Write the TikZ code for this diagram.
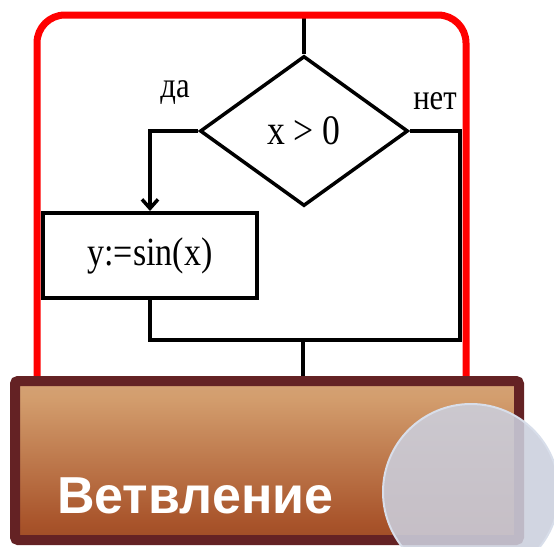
\documentclass[tikz,border=0pt]{standalone}
\usepackage{fontspec}
\setmainfont{Liberation Serif}
\newfontfamily\flowfont[FakeStretch=0.85]{Liberation Serif}
\newfontfamily\bannerfont{Liberation Sans}
\usepackage{xcolor}
\usepackage{tikz}
\usetikzlibrary{shapes,arrows.meta,positioning,calc}

\definecolor{framered}{HTML}{FF0000}
\definecolor{bannerline}{HTML}{642224}
\definecolor{bannertop}{HTML}{D8AF95}
\definecolor{bannermid}{HTML}{D39E6E}
\definecolor{bannerlow}{HTML}{A8532A}
\definecolor{bannerbot}{HTML}{6E3318}
\definecolor{glassfill}{HTML}{CBCFDD}
\definecolor{glassline}{HTML}{D8DEEA}
\pgfdeclareverticalshading{bannershade}{100bp}{color(0bp)=(bannerbot); color(30bp)=(bannerlow); color(70bp)=(bannermid); color(100bp)=(bannertop)}

\begin{document}
\begin{tikzpicture}[
    x=1pt, y=-1pt,
    flow/.style={draw=black, line width=3.5pt},
    cond/.style={diamond, draw=black, line width=3.5pt, aspect=1.39, inner sep=0pt, minimum width=208pt, minimum height=150pt, font=\flowfont\fontsize{42}{42}\selectfont},
    act/.style={rectangle, draw=black, line width=4pt, inner sep=0pt, minimum width=214pt, minimum height=85pt, font=\flowfont\fontsize{40}{40}\selectfont},
    lbl/.style={inner sep=0pt, font=\flowfont\fontsize{36}{36}\selectfont},
    arrow/.style={flow, -{Straight Barb[length=9pt, width=16pt]}}
]
    \useasboundingbox (0,0) rectangle (554,546);

    % flowchart
    \node [cond] (dec) at (304,131) {x > 0};
    \node [act] (act) at (150,255.5) {y:=sin(x)};
    \node [lbl] (yes) at (175,93) {да};
    \node [lbl] (no) at (435,101) {нет};

    \coordinate (entry) at (304,15);
    \coordinate (right) at (460,340);
    \coordinate (join) at (303,340);
    \coordinate (exit) at (303,385);

    \draw [flow] (entry) -- (dec.north);
    \draw [arrow] (dec.west) -| (act.north);
    \draw [flow] (dec.east) -| (right) -| (act.south);
    \draw [flow] (join) -- (exit);

    % frame
    \draw [framered, line width=7pt, rounded corners=28pt] (37,15) rectangle (466,440);

    % banner
    \path [draw=bannerline, line width=10pt, shading=bannershade, rounded corners=3pt] (15,381) rectangle (519,540);
    \node [anchor=base west, inner sep=0pt, text=white, font=\bannerfont\bfseries\fontsize{52}{52}\selectfont] (title) at (57,513) {Ветвление};
    \path [fill=glassfill, fill opacity=0.88, draw=glassline, line width=2pt] (471,492) circle [radius=88];
\end{tikzpicture}
\end{document}
